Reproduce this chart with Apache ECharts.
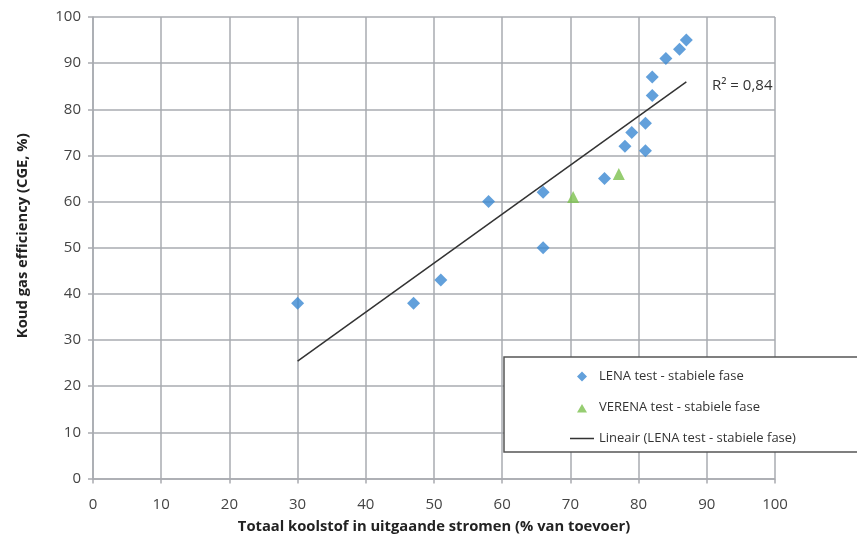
<!DOCTYPE html>
<html>
<head>
<meta charset="utf-8">
<script src="https://cdn.jsdelivr.net/npm/echarts@6/dist/echarts.min.js"></script>
<style>
html,body{margin:0;padding:0;background:#fff;}
#c{width:857px;height:536px;}
</style>
</head>
<body>
<div id="c"></div>
<script>
const lenaX = [30, 47, 51, 58, 66, 66, 75, 78, 79, 81, 81, 82, 82, 84, 86, 87];
const lenaY = [38, 38, 43, 60, 62, 50, 65, 72, 75, 77, 71, 83, 87, 91, 93, 95];
const verenaX = [70.4, 77.1];
const verenaY = [61, 66];
const seriesNames = ['LENA test - stabiele fase', 'VERENA test - stabiele fase', 'Lineair (LENA test - stabiele fase)'];
const xTitle = 'Totaal koolstof in uitgaande stromen (% van toevoer)';
const yTitle = 'Koud gas efficiency (CGE, %)';

// linear regression of LENA data
const n = lenaX.length;
const mx = lenaX.reduce((a, b) => a + b, 0) / n;
const my = lenaY.reduce((a, b) => a + b, 0) / n;
let sxy = 0, sxx = 0, syy = 0;
for (let i = 0; i < n; i++) {
  sxy += (lenaX[i] - mx) * (lenaY[i] - my);
  sxx += (lenaX[i] - mx) ** 2;
  syy += (lenaY[i] - my) ** 2;
}
const slope = sxy / sxx;
const icpt = my - slope * mx;
const r2 = (sxy * sxy) / (sxx * syy);
const xmin = Math.min(...lenaX), xmax = Math.max(...lenaX);
const trend = [[xmin, icpt + slope * xmin], [xmax, icpt + slope * xmax]];

const font = '"Open Sans", Lato, "Liberation Sans", sans-serif';
const gridColor = '#a9abb0';

// legend icons: shapes padded to the 24x10 icon box so they are not stretched
const iconDiamond = 'path://M0,0 L0.01,0 M24,10 L23.99,10 M7,5 L12,0 L17,5 L12,10 Z';
const iconTriangle = 'path://M0,0 L0.01,0 M24,10 L23.99,10 M7,10 L12,1.5 L17,10 Z';
const iconLine = 'path://M0,4.25 L24,4.25 L24,5.75 L0,5.75 Z M0,0 L0.01,0 M24,10 L23.99,10';

const chart = echarts.init(document.getElementById('c'), null, {renderer: 'canvas'});
chart.setOption({
  animation: false,
  textStyle: {fontFamily: font},
  grid: {left: 93, right: 82, top: 17, bottom: 57.5, containLabel: false, outerBoundsMode: 'none'},
  xAxis: {
    type: 'value', min: 0, max: 100, interval: 10,
    name: xTitle, nameLocation: 'middle', nameGap: 41,
    nameTextStyle: {fontFamily: font, fontWeight: 'bold', fontSize: 14.75, color: '#222'},
    axisLine: {show: true, lineStyle: {color: gridColor, width: 1.5}},
    axisTick: {show: true, length: 5, lineStyle: {color: gridColor, width: 1.5}},
    axisLabel: {fontFamily: font, fontSize: 15, color: '#444', margin: 19},
    splitLine: {show: true, lineStyle: {color: gridColor, width: 1.5}}
  },
  yAxis: {
    type: 'value', min: 0, max: 100, interval: 10,
    name: yTitle, nameLocation: 'middle', nameGap: 63, nameRotate: 90,
    nameTextStyle: {fontFamily: font, fontWeight: 'bold', fontSize: 14.75, color: '#222', padding: [0, 0, 0, 24]},
    axisLine: {show: true, lineStyle: {color: gridColor, width: 1.5}},
    axisTick: {show: true, length: 5, lineStyle: {color: gridColor, width: 1.5}},
    axisLabel: {fontFamily: font, fontSize: 15, color: '#444', margin: 12},
    splitLine: {show: true, lineStyle: {color: gridColor, width: 1.5}}
  },
  legend: {
    orient: 'vertical', left: 504, top: 357,
    padding: [13, 90, 7, 66],
    itemGap: 18, itemWidth: 24, itemHeight: 10,
    backgroundColor: '#fff', borderColor: '#555', borderWidth: 1.5,
    textStyle: {fontFamily: font, fontSize: 13, color: '#333'},
    data: [
      {name: seriesNames[0], icon: iconDiamond},
      {name: seriesNames[1], icon: iconTriangle},
      {name: seriesNames[2], icon: iconLine}
    ]
  },
  series: [
    {
      name: seriesNames[0], type: 'scatter', symbol: 'diamond', symbolSize: 13,
      itemStyle: {color: '#3b88d2'},
      data: lenaX.map((x, i) => [x, lenaY[i]]), z: 3
    },
    {
      name: seriesNames[1], type: 'scatter', symbol: 'triangle', symbolSize: 12,
      itemStyle: {color: '#7cc04e'},
      data: verenaX.map((x, i) => [x, verenaY[i]]), z: 3
    },
    {
      name: seriesNames[2], type: 'line', symbol: 'none', showSymbol: false,
      lineStyle: {color: '#333', width: 1.5},
      itemStyle: {color: '#333'},
      data: trend, z: 2
    }
  ],
  graphic: [{
    type: 'text', left: 712, top: 78,
    style: {text: 'R² = ' + r2.toFixed(2).replace('.', ','), font: '15px ' + font, fill: '#333'}
  }]
});
</script>
</body>
</html>
